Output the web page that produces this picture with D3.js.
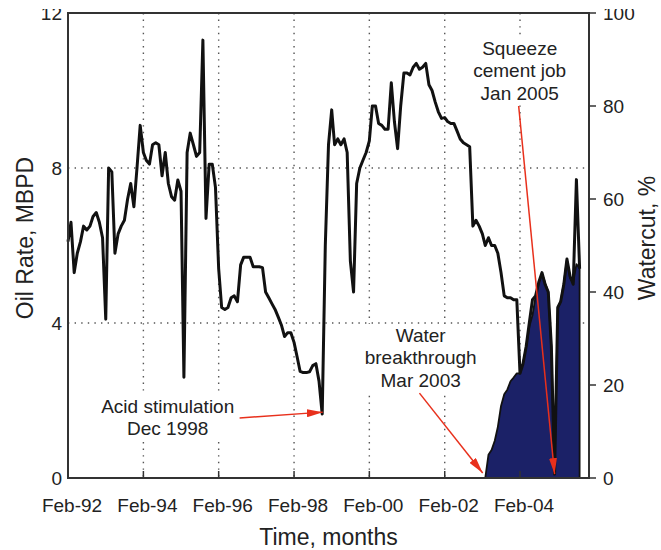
<!DOCTYPE html>
<head>
  <meta charset="utf-8">
  <title>Oil rate and watercut</title>
  <style>
    body { margin: 0; background: #fff; }
    text { font-family: "Liberation Sans", Arial, sans-serif; fill: #222; }
  </style>
</head>
<body>
  <div id="chart"></div>
  <script src="https://cdn.jsdelivr.net/npm/d3@7"></script>
  <script>
    // monthly oil rate (MBPD), starting Feb 1992
    var oilStart = "1992-02";
    var oilRate = [
      6.1, 6.6, 5.3, 5.8, 6.1, 6.5, 6.4, 6.5, 6.75, 6.85, 6.6, 6.2,
      4.1, 8.0, 7.9, 5.8, 6.3, 6.5, 6.65, 7.2, 7.6, 7.0, 8.0, 9.1,
      8.4, 8.2, 8.1, 8.6, 8.65, 8.6, 7.8, 8.4, 7.6, 7.26, 7.17, 7.69,
      7.4, 2.6, 8.4, 8.9, 8.6, 8.3, 8.4, 11.3, 6.7, 8.1, 8.1, 7.5,
      5.4, 4.4, 4.35, 4.4, 4.65, 4.7, 4.55, 5.5, 5.7, 5.7, 5.7, 5.45,
      5.45, 5.45, 5.43, 4.8, 4.65, 4.5, 4.35, 4.15, 3.95, 3.65, 3.75, 3.75,
      3.5, 3.15, 2.75, 2.72, 2.72, 2.74, 2.9, 2.95, 2.5, 1.65, 6.0, 8.6,
      9.5, 8.6, 8.75, 8.6, 8.75, 8.4, 5.6, 4.8, 7.6, 8.0, 8.2, 8.4,
      8.7, 9.6, 9.6, 9.15, 9.1, 9.0, 9.0, 10.2, 9.2, 8.5, 9.6, 10.45,
      10.45, 10.4, 10.6, 10.7, 10.55, 10.6, 10.7, 10.15, 10.0, 9.7, 9.45, 9.28,
      9.3, 9.2, 9.15, 9.15, 8.95, 8.75, 8.65, 8.6, 8.55, 6.5, 6.65, 6.5,
      6.3, 6.0, 6.2, 6.0, 6.0, 5.8, 5.3, 4.7, 4.65, 4.65, 4.6, 4.6,
      2.7, 2.95, 3.4, 4.0, 4.6, 4.7, 5.05, 5.3, 5.0, 4.8, 3.4, 0.1,
      4.4, 4.55, 5.0, 5.65, 5.2, 5.0, 7.7, 5.4
    ];

    // monthly watercut (%), starting Mar 2003
    var waterStart = "2003-03";
    var waterCut = [
      0, 5, 6, 8, 11, 15.5, 18, 19, 20.8, 21.6, 22.5, 22.5,
      24.7, 28.2, 32.5, 35, 39, 42, 44, 42, 40, 28, 1, 36.5,
      38, 42, 47, 43, 42, 46, 45
    ];

    var xTicks = ["1992-02", "1994-02", "1996-02", "1998-02", "2000-02", "2002-02", "2004-02"];
    var oilTicks = [0, 4, 8, 12];
    var wcTicks = [0, 20, 40, 60, 80, 100];

    var notes = [
      { lines: ["Acid stimulation", "Dec 1998"], at: ["1994-09-25", 1.68],
        from: ["1996-08-22", 1.55], to: ["1998-11-07", 1.7] },
      { lines: ["Water", "breakthrough", "Mar 2003"], at: ["2001-06-13", 3.51],
        from: ["2001-06-01", 2.19], to: ["2003-02-04", 0.13] },
      { lines: ["Squeeze", "cement job", "Jan 2005"], at: ["2004-01-29", 10.92],
        from: ["2004-01-19", 9.6], to: ["2005-01-01", 0.1] }
    ];

    var width = 661, height = 550;
    var margin = { top: 13, right: 72, bottom: 72, left: 68 };

    var parseMonth = d3.timeParse("%Y-%m");
    var parseDay = d3.timeParse("%Y-%m-%d");
    var fmt = d3.timeFormat("%b-%y");

    var oil = oilRate.map(function (v, i) {
      return { date: d3.timeMonth.offset(parseMonth(oilStart), i), value: v };
    });
    var water = waterCut.map(function (v, i) {
      return { date: d3.timeMonth.offset(parseMonth(waterStart), i), value: v };
    });

    var x = d3.scaleTime()
      .domain([parseMonth("1992-02"), parseMonth("2005-12")])
      .range([margin.left, width - margin.right]);
    var y = d3.scaleLinear().domain([0, 12]).range([height - margin.bottom, margin.top]);
    var yR = d3.scaleLinear().domain([0, 100]).range([height - margin.bottom, margin.top]);

    var x0 = margin.left, x1 = width - margin.right;
    var y0 = height - margin.bottom, y1 = margin.top;

    var svg = d3.select("#chart").append("svg")
      .attr("width", width)
      .attr("height", height);

    svg.append("defs").append("marker")
      .attr("id", "arrow")
      .attr("viewBox", "0 0 16 8")
      .attr("refX", 16).attr("refY", 4)
      .attr("markerWidth", 16).attr("markerHeight", 8)
      .attr("markerUnits", "userSpaceOnUse")
      .attr("orient", "auto")
      .append("path")
      .attr("d", "M0,0L16,4L0,8z")
      .attr("fill", "#e8301c");

    // dotted grid
    var grid = svg.append("g")
      .attr("stroke", "#555")
      .attr("stroke-width", 1.4)
      .attr("stroke-dasharray", "1.4,5.2");
    grid.selectAll(".vg")
      .data(xTicks.slice(1))
      .enter().append("line")
      .attr("x1", function (d) { return x(parseMonth(d)); })
      .attr("x2", function (d) { return x(parseMonth(d)); })
      .attr("y1", y1).attr("y2", y0);
    grid.selectAll(".hg")
      .data([4, 8])
      .enter().append("line")
      .attr("x1", x0).attr("x2", x1)
      .attr("y1", function (d) { return y(d); })
      .attr("y2", function (d) { return y(d); });

    // white boxes behind the annotation text
    var noteG = svg.append("g");
    notes.forEach(function (n) {
      var cx = x(parseDay(n.at[0])), cy = y(n.at[1]);
      var g = noteG.append("g");
      g.selectAll("text")
        .data(n.lines)
        .enter().append("text")
        .attr("x", cx)
        .attr("y", function (d, i) { return cy + i * 22.5; })
        .attr("text-anchor", "middle")
        .attr("font-size", 19)
        .text(function (d) { return d; });
      var bb = g.node().getBBox();
      g.insert("rect", "text")
        .attr("x", bb.x - 2).attr("y", bb.y - 1)
        .attr("width", bb.width + 4).attr("height", bb.height + 2)
        .attr("fill", "#fff");
    });

    // watercut area
    var area = d3.area()
      .x(function (d) { return x(d.date); })
      .y0(yR(0))
      .y1(function (d) { return yR(d.value); });

    svg.append("path")
      .datum(water)
      .attr("d", area)
      .attr("fill", "#1b2167")
      .attr("stroke", "#111")
      .attr("stroke-width", 1.8)
      .attr("stroke-linejoin", "round");

    // oil rate line
    var line = d3.line()
      .x(function (d) { return x(d.date); })
      .y(function (d) { return y(d.value); });

    svg.append("path")
      .datum(oil)
      .attr("d", line)
      .attr("fill", "none")
      .attr("stroke", "#111")
      .attr("stroke-width", 3)
      .attr("stroke-linejoin", "round");

    // arrows
    svg.append("g").selectAll("line")
      .data(notes)
      .enter().append("line")
      .attr("x1", function (d) { return x(parseDay(d.from[0])); })
      .attr("y1", function (d) { return y(d.from[1]); })
      .attr("x2", function (d) { return x(parseDay(d.to[0])); })
      .attr("y2", function (d) { return y(d.to[1]); })
      .attr("stroke", "#e8301c")
      .attr("stroke-width", 1.5)
      .attr("marker-end", "url(#arrow)");

    // frame
    svg.append("rect")
      .attr("x", x0).attr("y", y1)
      .attr("width", x1 - x0).attr("height", y0 - y1)
      .attr("fill", "none")
      .attr("stroke", "#333")
      .attr("stroke-width", 2);

    // bottom axis
    svg.append("g").selectAll("line")
      .data(xTicks)
      .enter().append("line")
      .attr("x1", function (d) { return x(parseMonth(d)); })
      .attr("x2", function (d) { return x(parseMonth(d)); })
      .attr("y1", y0).attr("y2", y0 - 7)
      .attr("stroke", "#333").attr("stroke-width", 1.5);
    svg.append("g").selectAll("text")
      .data(xTicks)
      .enter().append("text")
      .attr("x", function (d) { return x(parseMonth(d)) + 4; })
      .attr("y", y0 + 34)
      .attr("text-anchor", "middle")
      .attr("font-size", 19)
      .text(function (d) { return fmt(parseMonth(d)); });

    // left axis
    svg.append("g").selectAll("text")
      .data(oilTicks)
      .enter().append("text")
      .attr("x", x0 - 6)
      .attr("y", function (d) { return y(d) + 7; })
      .attr("text-anchor", "end")
      .attr("font-size", 19)
      .text(function (d) { return d; });

    // right axis
    svg.append("g").selectAll("line")
      .data(wcTicks)
      .enter().append("line")
      .attr("x1", x1).attr("x2", x1 + 7)
      .attr("y1", function (d) { return yR(d); })
      .attr("y2", function (d) { return yR(d); })
      .attr("stroke", "#333").attr("stroke-width", 1.5);
    svg.append("g").selectAll("text")
      .data(wcTicks)
      .enter().append("text")
      .attr("x", x1 + 14)
      .attr("y", function (d) { return yR(d) + 7; })
      .attr("font-size", 19)
      .text(function (d) { return d; });

    // axis titles
    svg.append("text")
      .attr("x", (x0 + x1) / 2)
      .attr("y", 545)
      .attr("text-anchor", "middle")
      .attr("font-size", 23)
      .text("Time, months");
    svg.append("text")
      .attr("transform", "translate(33," + 238 + ") rotate(-90)")
      .attr("text-anchor", "middle")
      .attr("font-size", 23)
      .text("Oil Rate, MBPD");
    svg.append("text")
      .attr("transform", "translate(655," + 238 + ") rotate(-90)")
      .attr("text-anchor", "middle")
      .attr("font-size", 23)
      .text("Watercut, %");

    // the scan is cut just above the top labels
    svg.append("rect")
      .attr("x", 0).attr("y", 0)
      .attr("width", width).attr("height", 9)
      .attr("fill", "#fff");
  </script>
</body>
